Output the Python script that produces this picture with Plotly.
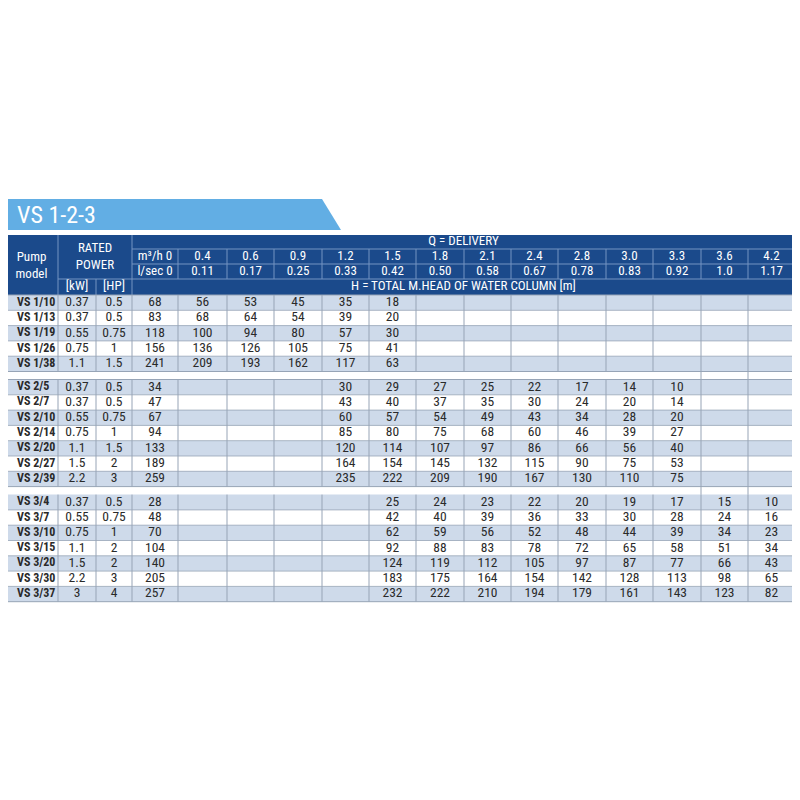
import plotly.graph_objects as go

# ---------------- data ----------------
title_text = "VS 1-2-3"
flow_m3h = ["m³/h 0", "0.4", "0.6", "0.9", "1.2", "1.5", "1.8", "2.1", "2.4", "2.8", "3.0", "3.3", "3.6", "4.2"]
flow_ls = ["l/sec 0", "0.11", "0.17", "0.25", "0.33", "0.42", "0.50", "0.58", "0.67", "0.78", "0.83", "0.92", "1.0", "1.17"]

g1_models = ["VS 1/10", "VS 1/13", "VS 1/19", "VS 1/26", "VS 1/38"]
g1_kw = ["0.37", "0.37", "0.55", "0.75", "1.1"]
g1_hp = ["0.5", "0.5", "0.75", "1", "1.5"]
g1_head = [
    [68, 56, 53, 45, 35, 18],
    [83, 68, 64, 54, 39, 20],
    [118, 100, 94, 80, 57, 30],
    [156, 136, 126, 105, 75, 41],
    [241, 209, 193, 162, 117, 63],
]

g2_models = ["VS 2/5", "VS 2/7", "VS 2/10", "VS 2/14", "VS 2/20", "VS 2/27", "VS 2/39"]
g2_kw = ["0.37", "0.37", "0.55", "0.75", "1.1", "1.5", "2.2"]
g2_hp = ["0.5", "0.5", "0.75", "1", "1.5", "2", "3"]
g2_head = [
    [34, None, None, None, 30, 29, 27, 25, 22, 17, 14, 10],
    [47, None, None, None, 43, 40, 37, 35, 30, 24, 20, 14],
    [67, None, None, None, 60, 57, 54, 49, 43, 34, 28, 20],
    [94, None, None, None, 85, 80, 75, 68, 60, 46, 39, 27],
    [133, None, None, None, 120, 114, 107, 97, 86, 66, 56, 40],
    [189, None, None, None, 164, 154, 145, 132, 115, 90, 75, 53],
    [259, None, None, None, 235, 222, 209, 190, 167, 130, 110, 75],
]

g3_models = ["VS 3/4", "VS 3/7", "VS 3/10", "VS 3/15", "VS 3/20", "VS 3/30", "VS 3/37"]
g3_kw = ["0.37", "0.55", "0.75", "1.1", "1.5", "2.2", "3"]
g3_hp = ["0.5", "0.75", "1", "2", "2", "3", "4"]
g3_head = [
    [28, None, None, None, None, 25, 24, 23, 22, 20, 19, 17, 15, 10],
    [48, None, None, None, None, 42, 40, 39, 36, 33, 30, 28, 24, 16],
    [70, None, None, None, None, 62, 59, 56, 52, 48, 44, 39, 34, 23],
    [104, None, None, None, None, 92, 88, 83, 78, 72, 65, 58, 51, 34],
    [140, None, None, None, None, 124, 119, 112, 105, 97, 87, 77, 66, 43],
    [205, None, None, None, None, 183, 175, 164, 154, 142, 128, 113, 98, 65],
    [257, None, None, None, None, 232, 222, 210, 194, 179, 161, 143, 123, 82],
]

# ---------------- layout constants ----------------
FONT = "Liberation Sans Narrow, Roboto Condensed, Roboto, sans-serif"
DARK = "#1b4a8b"
BANNER = "#62aee4"
SHADE = "#cedaea"
GRID = "#97a4b6"
TXT = "#2a2a2a"
PAGE_OFF = 8  # default body margin of the html page

col_edges = [5, 58, 96, 132, 178, 227, 274, 322, 369, 416, 464, 511, 558, 606, 653, 701, 748, 795]
hdr_edges = [235, 249, 264, 279, 295]
ROW_H = 15.3
GAP_H = 8.0

shapes = []
tx, ty, tt = [], [], []          # regular body text
bx, by, bt = [], [], []          # bold model names
hx, hy, ht = [], [], []          # header text


def rect(x0, y0, x1, y1, fill):
    shapes.append(dict(type="rect", xref="x", yref="y", x0=x0, y0=y0, x1=x1, y1=y1,
                       fillcolor=fill, line=dict(width=0), layer="below"))


def seg(x0, y0, x1, y1, color, w=1):
    shapes.append(dict(type="line", xref="x", yref="y", x0=x0, y0=y0, x1=x1, y1=y1,
                       line=dict(color=color, width=w), layer="above"))


L, R = col_edges[0], col_edges[-1]

# banner
shapes.append(dict(type="path", xref="x", yref="y",
                   path=f"M {L},199 L 322,199 L 341,230 L {L},230 Z",
                   fillcolor=BANNER, line=dict(width=0), layer="below"))

# header block
rect(L, hdr_edges[0], R, hdr_edges[-1], DARK)
hx += [(col_edges[0] + col_edges[1]) / 2]
hy += [(hdr_edges[0] + hdr_edges[-1]) / 2 + 1]
ht += ["Pump<br>model"]
hx += [(col_edges[1] + col_edges[3]) / 2]
hy += [(hdr_edges[0] + hdr_edges[3]) / 2]
ht += ["RATED<br>POWER"]
for i, lab in enumerate(["[kW]", "[HP]"]):
    hx.append((col_edges[1 + i] + col_edges[2 + i]) / 2)
    hy.append((hdr_edges[3] + hdr_edges[4]) / 2)
    ht.append(lab)
hx.append((col_edges[3] + R) / 2)
hy.append((hdr_edges[0] + hdr_edges[1]) / 2)
ht.append("Q = DELIVERY")
hx.append((col_edges[3] + R) / 2)
hy.append((hdr_edges[3] + hdr_edges[4]) / 2)
ht.append("H = TOTAL M.HEAD OF WATER COLUMN [m]")
for j, (a, b) in enumerate(zip(flow_m3h, flow_ls)):
    cx = (col_edges[3 + j] + col_edges[4 + j]) / 2
    hx += [cx, cx]
    hy += [(hdr_edges[1] + hdr_edges[2]) / 2, (hdr_edges[2] + hdr_edges[3]) / 2]
    ht += [a, b]

HL = "#7594c2"
seg(col_edges[1], hdr_edges[0], col_edges[1], hdr_edges[-1], HL)
seg(col_edges[3], hdr_edges[0], col_edges[3], hdr_edges[-1], HL)
seg(col_edges[2], hdr_edges[3], col_edges[2], hdr_edges[4], HL)
seg(col_edges[1], hdr_edges[3], col_edges[3], hdr_edges[3], HL)
for k in (1, 2, 3):
    seg(col_edges[3], hdr_edges[k], R, hdr_edges[k], HL)
for e in col_edges[4:-1]:
    seg(e, hdr_edges[1], e, hdr_edges[3], HL)

# body
groups = [
    (g1_models, g1_kw, g1_hp, g1_head),
    (g2_models, g2_kw, g2_hp, g2_head),
    (g3_models, g3_kw, g3_hp, g3_head),
]
y = hdr_edges[-1]
group_spans = []
for gi, (models, kws, hps, heads) in enumerate(groups):
    y_start = y
    for r, (m, kw, hp, hv) in enumerate(zip(models, kws, hps, heads)):
        y0, y1 = y, y + ROW_H
        if r % 2 == 0:
            rect(L, y0, R, y1, SHADE)
        cy = (y0 + y1) / 2
        bx.append(col_edges[0] + 12); by.append(cy); bt.append(f"<b>{m}</b>")
        tx.append((col_edges[1] + col_edges[2]) / 2); ty.append(cy); tt.append(kw)
        tx.append((col_edges[2] + col_edges[3]) / 2); ty.append(cy); tt.append(hp)
        for j, v in enumerate(hv):
            if v is None:
                continue
            tx.append((col_edges[3 + j] + col_edges[4 + j]) / 2); ty.append(cy); tt.append(str(v))
        if r > 0:
            seg(L, y0, R, y0, GRID, 0.8)
        y = y1
    group_spans.append((y_start, y))
    seg(L, y, R, y, GRID, 1)
    if gi < len(groups) - 1:
        seg(L, y_start, R, y_start, GRID, 1)
        y += GAP_H

# vertical grid in body
for (ys, ye) in group_spans:
    for e in col_edges:
        seg(e, ys, e, ye, GRID, 1)
# columns that continue through the gaps
for (a, b), (c, d) in zip(group_spans[:-1], group_spans[1:]):
    for e in col_edges[-3:]:
        seg(e, b, e, c, GRID, 1)

fig = go.Figure()
fig.add_trace(go.Scatter(x=hx, y=hy, text=ht, mode="text", hoverinfo="skip",
                         textfont=dict(family=FONT, size=13, color="white")))
fig.add_trace(go.Scatter(x=tx, y=ty, text=tt, mode="text", hoverinfo="skip",
                         textfont=dict(family=FONT, size=13.5, color=TXT)))
fig.add_trace(go.Scatter(x=bx, y=by, text=bt, mode="text", hoverinfo="skip",
                         textposition="middle right",
                         textfont=dict(family=FONT, size=12, color=TXT)))

fig.add_annotation(x=15, y=215, xref="x", yref="y", text=title_text, showarrow=False,
                   xanchor="left", yanchor="middle",
                   font=dict(family=FONT, size=24, color="white"))

fig.update_layout(
    width=800 - PAGE_OFF, height=800 - PAGE_OFF,
    margin=dict(l=0, r=0, t=0, b=0),
    paper_bgcolor="white", plot_bgcolor="white",
    showlegend=False,
    shapes=shapes,
    xaxis=dict(range=[PAGE_OFF, 800], visible=False, fixedrange=True),
    yaxis=dict(range=[800, PAGE_OFF], visible=False, fixedrange=True),
)
fig.write_html("out.html")
